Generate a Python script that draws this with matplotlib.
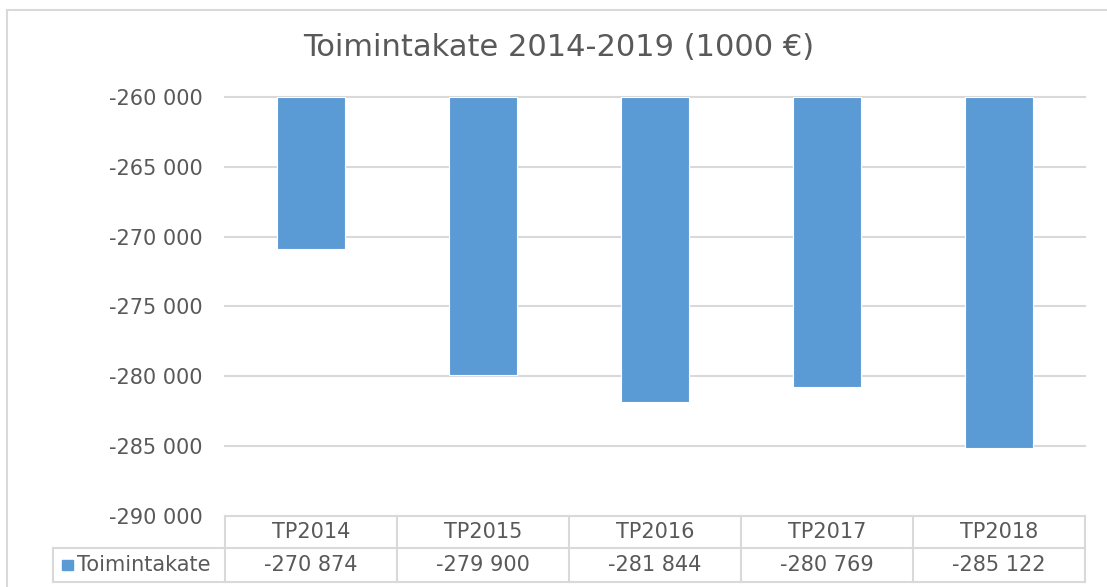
import matplotlib.pyplot as plt
from matplotlib.lines import Line2D
from matplotlib.patches import Rectangle

categories = ['TP2014', 'TP2015', 'TP2016', 'TP2017', 'TP2018']
values = [-270874, -279900, -281844, -280769, -285122]
series_name = 'Toimintakate'
y_ticks = [-290000, -285000, -280000, -275000, -270000, -265000, -260000]

bar_color = '#5B9BD5'
grid_color = '#D9D9D9'
text_color = '#595959'


def fmt(v):
    return f'{v:,}'.replace(',', ' ')


W, H = 1107, 587
fig = plt.figure(figsize=(W / 100, H / 100), dpi=100)
plt.rcParams['font.family'] = ['DejaVu Sans']

# plot area in pixels
left, right, top, bottom = 225, 1085, 97, 516
ax = fig.add_axes([left / W, 1 - bottom / H, (right - left) / W, (bottom - top) / H])

x = list(range(len(categories)))
base = y_ticks[-1]
ax.bar(x, [v - base for v in values], bottom=base, width=0.4,
       color=bar_color, edgecolor='white', linewidth=0.8, zorder=3)

ax.set_xlim(-0.5, len(categories) - 0.5)
ax.set_ylim(y_ticks[0], y_ticks[-1])
ax.set_yticks(y_ticks)
ax.set_yticklabels([fmt(t) for t in y_ticks], fontsize=15, color=text_color)
ax.tick_params(axis='y', length=0, pad=16)
ax.set_xticks([])
for s in ax.spines.values():
    s.set_visible(False)
for t in y_ticks:
    ax.axhline(t, color=grid_color, linewidth=1.5, zorder=1, clip_on=False)

# data table under the plot
tr = ax.get_xaxis_transform()
h1 = -32 / (bottom - top)
h2 = -66 / (bottom - top)
n = len(categories)
lk = dict(color=grid_color, linewidth=1.5, transform=tr, clip_on=False)
ax.plot([-1.5, n - 0.5], [h1, h1], **lk)
ax.plot([-1.5, n - 0.5], [h2, h2], **lk)
ax.plot([-1.5, -1.5], [h1, h2], **lk)
for i in range(n + 1):
    ax.plot([i - 0.5, i - 0.5], [0, h2], **lk)
for i, (c, v) in enumerate(zip(categories, values)):
    ax.text(i, h1 / 2, c, ha='center', va='center', fontsize=15,
            color=text_color, transform=tr)
    ax.text(i, (h1 + h2) / 2, fmt(v), ha='center', va='center', fontsize=15,
            color=text_color, transform=tr)

# legend key in the row label cell
ax.add_patch(Rectangle((-1.445, (h1 + h2) / 2 - 0.013), 0.064, 0.026, transform=tr,
                       color=bar_color, clip_on=False))
ax.text(-1.36, (h1 + h2) / 2, series_name, ha='left', va='center', fontsize=15,
        color=text_color, transform=tr)

fig.text(559 / W, 1 - 48 / H, 'Toimintakate 2014-2019 (1000 €)', ha='center',
         va='center', fontsize=22, color=text_color)

# chart frame
fig.add_artist(Line2D([7 / W, 1], [1 - 10 / H, 1 - 10 / H], color=grid_color, linewidth=1.5))
fig.add_artist(Line2D([7 / W, 7 / W], [0, 1 - 10 / H], color=grid_color, linewidth=1.5))

fig.savefig('out.png', dpi=100)
